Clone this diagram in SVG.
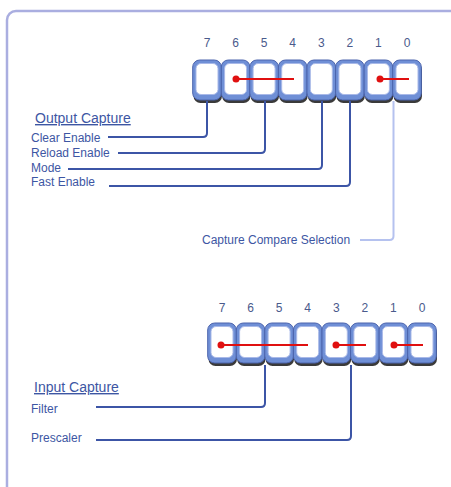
<svg xmlns="http://www.w3.org/2000/svg" width="451" height="487" viewBox="0 0 451 487">
<defs>
<style>
.frame{fill:#ffffff;stroke:#aaaee0;stroke-width:2.5}
.num{font-family:"Liberation Sans",Arial,sans-serif;font-size:12px;fill:#4a5a8c;text-anchor:middle}
.lbl{font-family:"Liberation Sans",Arial,sans-serif;font-size:12px;fill:#3d56a3}
.ttl{font-family:"Liberation Sans",Arial,sans-serif;font-size:14px;fill:#3d56a3;text-decoration:underline}
.conn{fill:none;stroke:#3c55a6;stroke-width:2}
.connl{fill:none;stroke:#b5c2ef;stroke-width:2}
.red{stroke:#e01010;stroke-width:2}
.dot{fill:#e01010}
</style>
<g id="cell">
<rect x="-13.5" y="3" width="28.5" height="40" rx="7" fill="#3a3a3a"/>
<rect x="-14.3" y="0" width="28.6" height="40" rx="7" fill="#6f8fd6" stroke="#4c64ad" stroke-width="1"/>
<rect x="-11" y="3.5" width="22" height="31" rx="5" fill="#ffffff" stroke="#a9b9e8" stroke-width="1"/>
</g>
</defs>
<rect class="frame" x="7" y="11" width="470" height="500" rx="9"/>

<g id="reg-output">
<text class="num" x="207" y="47">7</text>
<text class="num" x="235.6" y="47">6</text>
<text class="num" x="264.1" y="47">5</text>
<text class="num" x="292.7" y="47">4</text>
<text class="num" x="321.3" y="47">3</text>
<text class="num" x="349.9" y="47">2</text>
<text class="num" x="378.4" y="47">1</text>
<text class="num" x="407" y="47">0</text>
<use href="#cell" x="207" y="60"/>
<use href="#cell" x="235.6" y="60"/>
<use href="#cell" x="264.1" y="60"/>
<use href="#cell" x="292.7" y="60"/>
<use href="#cell" x="321.3" y="60"/>
<use href="#cell" x="349.9" y="60"/>
<use href="#cell" x="378.4" y="60"/>
<use href="#cell" x="407" y="60"/>
<line class="red" x1="236" y1="79" x2="294" y2="79"/>
<circle class="dot" cx="236" cy="79" r="3.5"/>
<line class="red" x1="380" y1="79" x2="409" y2="79"/>
<circle class="dot" cx="380" cy="79" r="3.5"/>
</g>

<g id="reg-input">
<text class="num" x="222" y="312">7</text>
<text class="num" x="250.6" y="312">6</text>
<text class="num" x="279.1" y="312">5</text>
<text class="num" x="307.7" y="312">4</text>
<text class="num" x="336.3" y="312">3</text>
<text class="num" x="364.9" y="312">2</text>
<text class="num" x="393.4" y="312">1</text>
<text class="num" x="422" y="312">0</text>
<use href="#cell" x="222" y="323"/>
<use href="#cell" x="250.6" y="323"/>
<use href="#cell" x="279.1" y="323"/>
<use href="#cell" x="307.7" y="323"/>
<use href="#cell" x="336.3" y="323"/>
<use href="#cell" x="364.9" y="323"/>
<use href="#cell" x="393.4" y="323"/>
<use href="#cell" x="422" y="323"/>
<line class="red" x1="221" y1="345" x2="308" y2="345"/>
<circle class="dot" cx="221" cy="345" r="3.5"/>
<line class="red" x1="336" y1="345" x2="366" y2="345"/>
<circle class="dot" cx="336" cy="345" r="3.5"/>
<line class="red" x1="394" y1="345" x2="423" y2="345"/>
<circle class="dot" cx="394" cy="345" r="3.5"/>
</g>

<g id="connectors">
<path class="conn" d="M207 101 V133 Q207 137 203 137 H108"/>
<path class="conn" d="M265 101 V149 Q265 153 261 153 H118"/>
<path class="conn" d="M322 101 V165 Q322 169 318 169 H68"/>
<path class="conn" d="M350 101 V182 Q350 186 346 186 H109"/>
<path class="connl" d="M393.5 101 V236 Q393.5 240 389.5 240 H360"/>
<path class="conn" d="M265 365 V403 Q265 407 261 407 H96"/>
<path class="conn" d="M351 365 V436 Q351 440 347 440 H96"/>
</g>

<g id="labels">
<text class="ttl" x="35" y="123">Output Capture</text>
<text class="lbl" x="31" y="142">Clear Enable</text>
<text class="lbl" x="31" y="157">Reload Enable</text>
<text class="lbl" x="31" y="172">Mode</text>
<text class="lbl" x="31" y="186">Fast Enable</text>
<text class="lbl" x="202" y="244">Capture Compare Selection</text>
<text class="ttl" x="34" y="392">Input Capture</text>
<text class="lbl" x="31" y="413">Filter</text>
<text class="lbl" x="31" y="442">Prescaler</text>
</g>
</svg>
